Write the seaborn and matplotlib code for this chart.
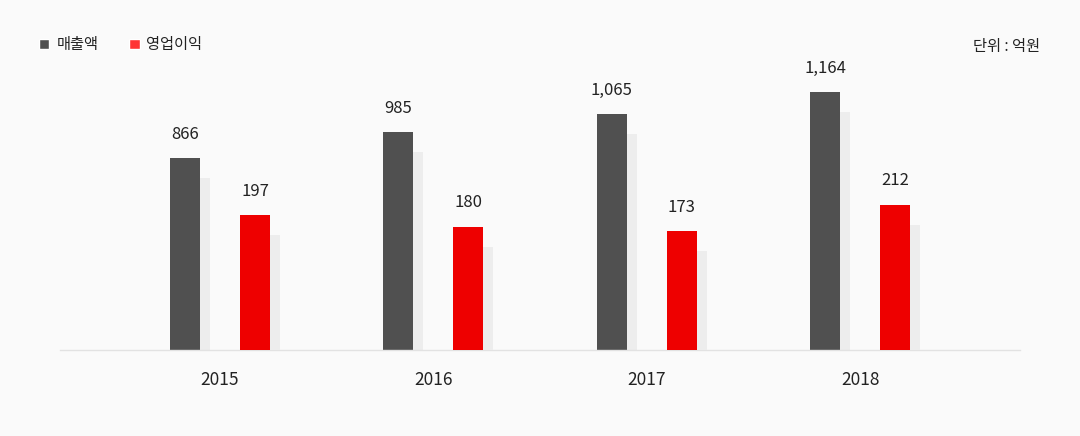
import numpy as np
import pandas as pd
import seaborn as sns
import matplotlib
matplotlib.use("Agg")
import matplotlib.pyplot as plt
from matplotlib.transforms import ScaledTranslation
from matplotlib.patches import Patch

years = ["2015", "2016", "2017", "2018"]
sales = [866, 985, 1065, 1164]
profit = [197, 180, 173, 212]
series = ["매출액", "영업이익"]
unit_label = "단위 : 억원"

sns.set_theme(style="white")
plt.rcParams["font.family"] = ["Noto Sans CJK KR", "DejaVu Sans"]

BG = "#fafafa"
fig = plt.figure(figsize=(10.8, 4.36), dpi=100, facecolor=BG)
ax = fig.add_axes([60 / 1080, 86 / 436, 960 / 1080, 300 / 436])
ax.set_facecolor(BG)
ax2 = ax.twinx()
ax2.patch.set_visible(False)

df = pd.DataFrame({
    "year": years * 2,
    "series": [series[0]] * len(years) + [series[1]] * len(years),
    "value": sales + profit,
})
df_s = df[df["series"] == series[0]]
df_p = df[df["series"] == series[1]]

kw = dict(x="year", y="value", hue="series", hue_order=series, order=years,
          width=0.656, gap=0.571, dodge=True, legend=False, saturation=1,
          errorbar=None)
shadow_pal = {series[0]: "#ededed", series[1]: "#ededed"}
main_pal = {series[0]: "#505050", series[1]: "#ee0000"}

shift = ScaledTranslation(0.10, -0.20, fig.dpi_scale_trans)

for axis, d in ((ax, df_s), (ax2, df_p)):
    n0 = len(axis.patches)
    sns.barplot(data=d, palette=shadow_pal, ax=axis, **kw)
    for p in axis.patches[n0:]:
        p.set_transform(axis.transData + shift)
        p.set_edgecolor("none")
    c0 = len(axis.containers)
    sns.barplot(data=d, palette=main_pal, ax=axis, **kw)
    for cont in axis.containers[c0:]:
        if len(cont) == 0:
            continue
        for p in cont:
            p.set_edgecolor("none")
        axis.bar_label(cont, labels=[f"{v:,.0f}" if np.isfinite(v) else "" for v in cont.datavalues],
                       padding=11, fontsize=12, color="#222222")

ax.set_ylim(0, 1356)
ax2.set_ylim(0, 437.6)
ax.set_xlim(-0.75, 3.75)

for a in (ax, ax2):
    for s in a.spines.values():
        s.set_visible(False)
    a.set_ylabel("")
    a.set_xlabel("")
    a.set_yticks([])
ax.spines["bottom"].set_visible(True)
ax.spines["bottom"].set_color("#e2e2e2")
ax.spines["bottom"].set_linewidth(1)
ax.spines["bottom"].set_zorder(5)
ax.tick_params(axis="x", length=0, pad=15, labelsize=12.5, labelcolor="#222222")
ax2.tick_params(axis="x", length=0)

handles = [Patch(facecolor="#505050", label=series[0]),
           Patch(facecolor="#ff3333", label=series[1])]
fig.legend(handles=handles, loc="center left", bbox_to_anchor=(25 / 1080, 1 - 45 / 436),
           ncol=2, frameon=False, handlelength=0.7, handleheight=0.7,
           handletextpad=0.45, columnspacing=2.0, fontsize=11, labelcolor="#222222")
fig.text(1040 / 1080, 1 - 47 / 436, unit_label, ha="right", va="center",
         fontsize=11, color="#222222")

fig.savefig("out.png", dpi=100, facecolor=BG)
